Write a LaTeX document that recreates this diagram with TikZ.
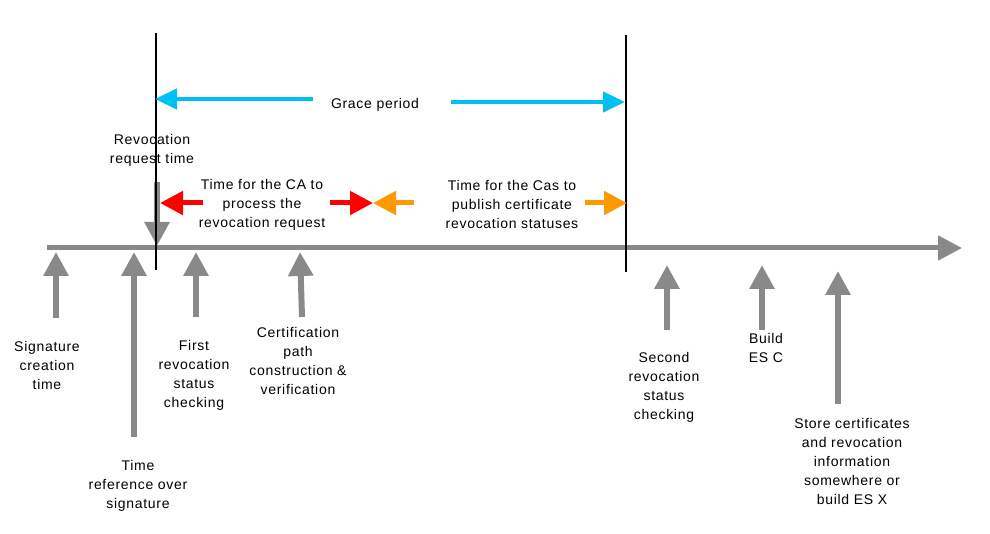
\documentclass[tikz,border=0pt]{standalone}
\usepackage{fontspec}
\setmainfont{Liberation Sans}[LetterSpace=5]
\usetikzlibrary{arrows.meta}
\definecolor{tlgray}{RGB}{137,137,137}
\definecolor{gcyan}{RGB}{0,191,243}
\definecolor{tred}{RGB}{255,0,0}
\definecolor{torange}{RGB}{255,153,0}
\begin{document}
\begin{tikzpicture}[x=1pt,y=-1pt,
  font=\fontsize{14}{19}\selectfont,
  lbl/.style={align=center, inner sep=0pt},
  timeline/.style={draw=tlgray, line width=5pt, -{Triangle[length=24pt,width=24pt]}},
  grayarrow/.style={draw=tlgray, line width=6pt, -{Triangle[length=24pt,width=24pt]}},
  cyanarrow/.style={draw=gcyan, line width=4.5pt, -{Triangle[length=22pt,width=20pt]}},
  redarrow/.style={draw=tred, line width=5pt, -{Triangle[length=23pt,width=23pt]}},
  orangearrow/.style={draw=torange, line width=5pt, -{Triangle[length=23pt,width=23pt]}},
  marker/.style={draw=black, line width=1.3pt}]
\useasboundingbox (0,0) rectangle (990,534);

% timeline
\coordinate (tl0) at (47,248);
\coordinate (tl1) at (962,248);
\draw[timeline] (tl0) -- (tl1);

% revocation request arrow
\node[lbl] (revreq) at (152,150) {Revocation\\request time};
\coordinate (rr0) at (157,182);
\coordinate (rr1) at (157,246);
\draw[grayarrow] (rr0) -- (rr1);

% up arrows
\coordinate (a1b) at (56,318);  \coordinate (a1t) at (56,252);
\coordinate (a2b) at (134,437); \coordinate (a2t) at (134,252);
\coordinate (a3b) at (196,317); \coordinate (a3t) at (196,252);
\coordinate (a4b) at (302,317); \coordinate (a4t) at (300,252);
\coordinate (a5b) at (667,330); \coordinate (a5t) at (667,265);
\coordinate (a6b) at (762,330); \coordinate (a6t) at (762,265);
\coordinate (a7b) at (838,404); \coordinate (a7t) at (838,271);
\foreach \i in {1,...,7} {\draw[grayarrow] (a\i b) -- (a\i t);}

% vertical markers
\coordinate (v1t) at (156,33);  \coordinate (v1b) at (156,270);
\coordinate (v2t) at (626,35);  \coordinate (v2b) at (626,272);
\draw[marker] (v1t) -- (v1b);
\draw[marker] (v2t) -- (v2b);

% grace period
\node[lbl] (grace) at (375,105) {Grace period};
\coordinate (g0) at (313,99);  \coordinate (g1) at (155,99);
\coordinate (g2) at (451,102); \coordinate (g3) at (625,102);
\draw[cyanarrow] (g0) -- (g1);
\draw[cyanarrow] (g2) -- (g3);

% CA processing
\node[lbl] (ca) at (262,205) {Time for the CA to\\process the\\revocation request};
\coordinate (r0) at (203,203); \coordinate (r1) at (160,203);
\coordinate (r2) at (330,203); \coordinate (mid) at (373,203);
\draw[redarrow] (r0) -- (r1);
\draw[redarrow] (r2) -- (mid);

% CAs publish
\node[lbl] (cas) at (512,204) {Time for the Cas to\\publish certificate\\revocation statuses};
\coordinate (o0) at (414,203); \coordinate (o2) at (585,203); \coordinate (o3) at (627,203);
\draw[orangearrow] (o0) -- (mid);
\draw[orangearrow] (o2) -- (o3);

% labels
\node[lbl] (sig) at (47,365) {Signature\\creation\\time};
\node[lbl] (tref) at (138,486) {Time\\reference over\\signature};
\node[lbl] (first) at (194,375) {First\\revocation\\status\\checking};
\node[lbl] (cert) at (298,361) {Certification\\path\\construction \&\\verification};
\node[lbl] (second) at (664,387) {Second\\revocation\\status\\checking};
\node[lbl] (build) at (766,348) {Build\\ES C};
\node[lbl] (store) at (852,461) {Store certificates\\and revocation\\information\\somewhere or\\build ES X};
\end{tikzpicture}
\end{document}
